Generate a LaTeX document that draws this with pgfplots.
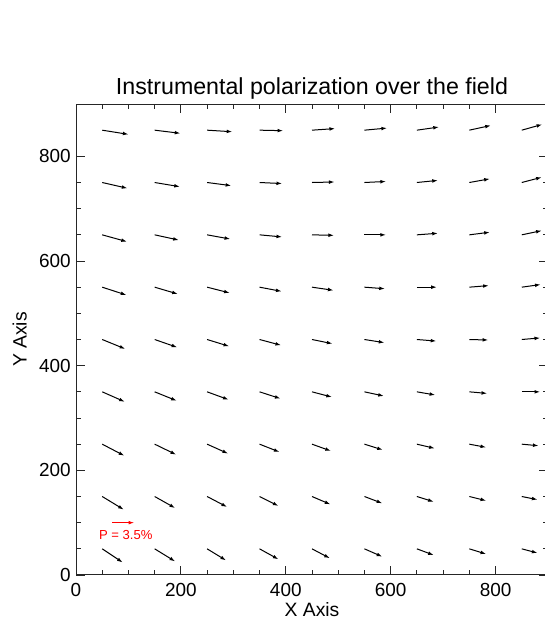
\documentclass[border=0pt]{standalone}
\usepackage{fontspec}
\setmainfont{Liberation Sans}
\usepackage{pgfplots}
\pgfplotsset{compat=1.18}
\usepackage{pgfplotstable}
\usetikzlibrary{arrows.meta}

% polarization vectors, (x,y) = tail, (u,v) = arrow in data units
\pgfplotstableread{
x y u v
50 850 50 -8
150 850 49 -6
250 850 48 -3
350 850 45 -1
450 850 44 3
550 850 43 4
650 850 42 6
750 850 41 9
850 850 39 11
50 750 48 -11
150 750 48 -8
250 750 46 -6
350 750 43 -2
450 750 43 1
550 750 41 2
650 750 40 4
750 750 39 7
850 750 38 10
50 650 47 -13
150 650 46 -10
250 650 44 -8
350 650 43 -4
450 650 42 -1
550 650 41 0
650 650 40 3
750 650 39 5
850 650 38 8
50 550 46 -15
150 550 44 -13
250 550 43 -11
350 550 42 -8
450 550 41 -6
550 550 39 -3
650 550 38 0
750 550 37 3
850 550 36 5
50 450 44 -18
150 450 43 -15
250 450 42 -13
350 450 41 -11
450 450 39 -8
550 450 38 -6
650 450 37 -3
750 450 36 -1
850 450 35 3
50 350 43 -19
150 350 42 -17
250 350 41 -15
350 350 40 -13
450 350 38 -10
550 350 37 -8
650 350 35 -6
750 350 34 -3
850 350 35 0
50 250 42 -22
150 250 41 -20
250 250 40 -18
350 250 38 -15
450 250 36 -13
550 250 35 -11
650 250 34 -8
750 250 32 -6
850 250 32 -3
50 150 41 -25
150 150 39 -22
250 150 38 -20
350 150 36 -18
450 150 35 -15
550 150 34 -13
650 150 32 -10
750 150 32 -8
850 150 30 -6
50 50 39 -26
150 50 39 -24
250 50 36 -22
350 50 36 -20
450 50 34 -18
550 50 34 -15
650 50 32 -12
750 50 32 -10
850 50 30 -8
}\polfield

\pgfplotstableread{
x y u v
69 100 42 0
}\refarrow

\begin{document}
\begin{tikzpicture}
\useasboundingbox (-57pt,-33.75pt) rectangle (351.75pt,431.25pt);
\begin{axis}[
  at={(0,0)}, anchor=south west,
  scale only axis, width=354pt, height=353.25pt,
  xmin=0, xmax=900, ymin=0, ymax=900,
  xtick={0,200,...,800}, ytick={0,200,...,800},
  minor tick num=3,
  major tick length=7pt, minor tick length=3.5pt,
  tick style={black!85, line width=0.6pt},
  axis line style={black!85, line width=0.75pt},
  /pgf/number format/assume math mode=true,
  tick label style={font=\fontsize{14.2}{14}\selectfont},
  xticklabel style={yshift=-2.5pt},
  yticklabel style={xshift=-0.5pt},
  title={Instrumental polarization over the field},
  every axis title shift=0pt,
  title style={font=\fontsize{17.4}{18}\selectfont, at={(axis description cs:0.5,1.032)}, anchor=center},
  xlabel={X Axis}, ylabel={Y Axis},
  every axis x label/.style={at={(axis description cs:0.5,-0.074)}, anchor=center, font=\fontsize{14.5}{15}\selectfont},
  every axis y label/.style={at={(axis description cs:-0.119,0.5)}, rotate=90, anchor=center, font=\fontsize{14.5}{15}\selectfont},
  clip=false,
]
\addplot[black, line width=0.75pt, -{Latex[length=4.2pt,width=2.8pt]},
  quiver={u=\thisrow{u}, v=\thisrow{v}}] table {\polfield};
\addplot[red, line width=0.75pt, -{Latex[length=4.2pt,width=2.8pt]},
  quiver={u=\thisrow{u}, v=\thisrow{v}}] table {\refarrow};
\node[red, font=\fontsize{9.8}{10}\selectfont] at (axis cs:95,77) {P = 3.5\%};
\end{axis}
\end{tikzpicture}
\end{document}
